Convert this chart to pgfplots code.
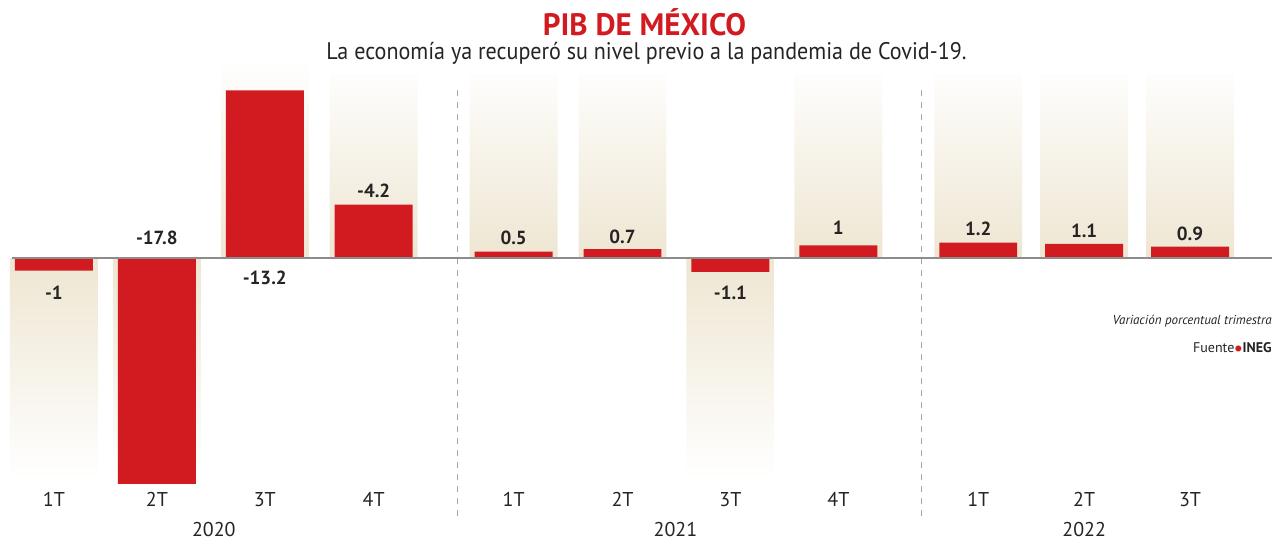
\documentclass[border=0pt]{standalone}
\usepackage{fontspec}
\setmainfont{PT Sans}
\usepackage{pgfplots}
\pgfplotsset{compat=1.18}
\definecolor{barred}{HTML}{D21A21}
\definecolor{beige}{HTML}{EEE6D2}
\definecolor{txt}{HTML}{262324}
\begin{document}
\begin{tikzpicture}
\begin{axis}[
  scale only axis, width=636.5pt, height=268.5pt,
  xmin=0, xmax=12.73, ymin=-21.97, ymax=20.31,
  axis line style={draw=none}, ytick=\empty,
  major tick length=0pt, clip=false, axis on top,
  xtick={0.54,1.57,2.65,3.74,5.14,6.23,7.31,8.39,9.79,10.85,11.91},
  xticklabels={1T,2T,3T,4T,1T,2T,3T,4T,1T,2T,3T},
  xticklabel style={anchor=center, yshift=18.5pt, font=\fontsize{10}{12}\selectfont, text=txt},
  extra x ticks={2.14,6.76,10.85},
  extra x tick labels={2020,2021,2022},
  extra x tick style={xticklabel style={yshift=-15pt}},
]
% invisible frame for the bounding box
\addplot[draw=none, fill=none, forget plot] coordinates {(0,-21.97) (12.73,-21.97) (12.73,20.31) (0,20.31)};
% shaded columns
\addplot[ybar, bar width=0.88, bar shift=0pt, draw=none, top color=white, bottom color=beige]
  coordinates {(2.65,15.6) (3.74,14.5) (5.14,14.5) (6.23,14.5) (8.39,14.5) (9.79,14.5) (10.85,14.5) (11.91,14.5)};
\addplot[ybar, bar width=0.88, bar shift=0pt, draw=none, top color=beige, bottom color=white]
  coordinates {(0.54,-17.5) (1.57,-17.5) (7.31,-17.5)};
% separators
\addplot[dashed, color=black!35, line width=0.5pt] coordinates {(4.58,13.2) (4.58,-20.8)};
\addplot[dashed, color=black!35, line width=0.5pt] coordinates {(9.22,13.2) (9.22,-20.8)};
% bars
\addplot[ybar, bar width=0.78, bar shift=0pt, fill=barred, draw=none]
  coordinates {(0.54,-1) (1.57,-17.8) (2.65,13.2) (3.74,4.2) (5.14,0.5) (6.23,0.7) (7.31,-1.1) (8.39,1) (10.85,1.1) (9.79,1.2) (11.91,0.9)};
% baseline
\addplot[color=black!45, line width=1pt] coordinates {(0.12,0) (12.73,0)};
% value labels
\addplot[only marks, mark=none, nodes near coords, point meta=explicit symbolic,
  nodes near coords style={anchor=center, font=\fontsize{9.5}{11}\selectfont\bfseries, text=txt}]
  coordinates {(0.54,-2.76)[-1] (1.57,1.57)[-17.8] (2.65,-1.57)[-13.2] (3.74,5.3)[-4.2]
  (5.14,1.57)[0.5] (6.23,1.65)[0.7] (7.31,-2.76)[-1.1] (8.39,2.36)[1]
  (9.79,2.28)[1.2] (10.85,2.13)[1.1] (11.91,1.89)[0.9]};
% titles and notes
\node[font=\fontsize{15.5}{17}\selectfont\bfseries, text=barred] at (axis cs:6.45,18.58) {PIB DE MÉXICO};
\node[font=\fontsize{12}{14}\selectfont, text=txt] at (axis cs:6.47,16.14) {\scalebox{0.92}[1]{La economía ya recuperó su nivel previo a la pandemia de Covid-19.}};
\node[font=\fontsize{6.5}{8}\selectfont\itshape, text=txt, anchor=east, inner sep=0pt] at (axis cs:12.73,-4.95) {Variación porcentual trimestra};
\node[font=\fontsize{7}{8}\selectfont, text=txt, anchor=east, inner sep=0pt] at (axis cs:12.73,-7.1) {Fuente{\color{barred}$\bullet$}\textbf{INEG}};
\end{axis}
\end{tikzpicture}
\end{document}
